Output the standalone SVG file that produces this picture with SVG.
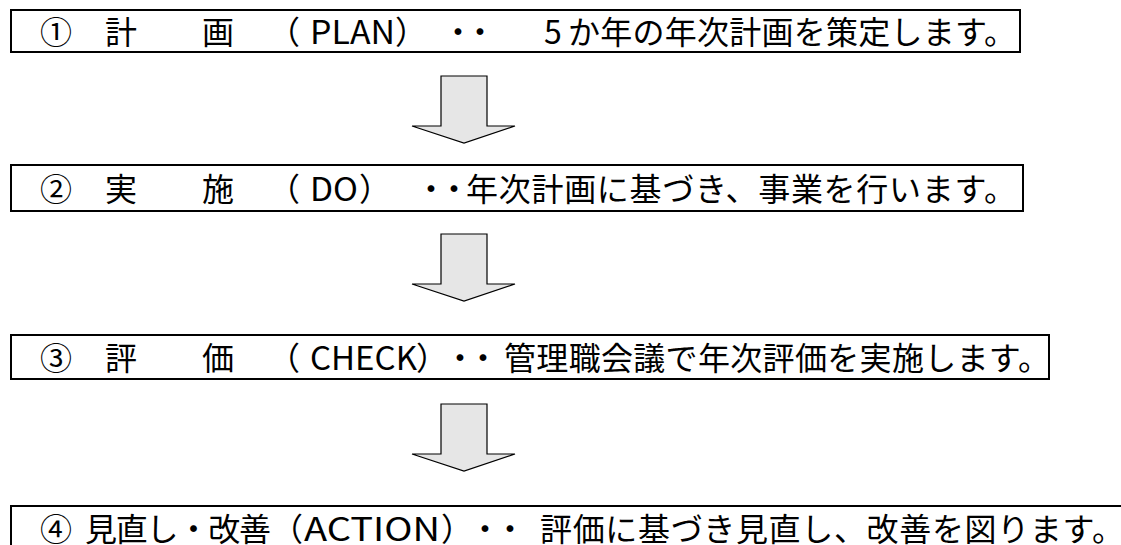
<svg xmlns="http://www.w3.org/2000/svg" width="1121" height="545" viewBox="0 0 1121 545">
<style>
.box{fill:#ffffff;stroke:#000000;stroke-width:2}
.arrow{fill:#e6e6e6;stroke:#000000;stroke-width:1.2;stroke-linejoin:miter}
.t{font-family:"Noto Sans CJK JP","Noto Sans",sans-serif;font-size:32px;fill:#000000}
</style>
<rect width="1121" height="545" fill="#ffffff"/>
<g id="connectors">
<path class="arrow" d="M441,76 H487 V126 H515 L464,143 L412,126 H441 Z"/>
<path class="arrow" d="M441,234 H487 V284 H515 L464,301 L412,284 H441 Z"/>
<path class="arrow" d="M441,404 H487 V454 H515 L464,471 L412,454 H441 Z"/>
</g>
<g id="node-plan">
<rect class="box" x="11" y="10" width="1009" height="42"/>
<text class="t" y="44"><tspan x="40">①</tspan><tspan x="105">計</tspan><tspan x="202">画</tspan><tspan x="268">（</tspan><tspan x="310" textLength="85" lengthAdjust="spacingAndGlyphs">PLAN</tspan><tspan x="395">）</tspan><tspan x="442" letter-spacing="-10">・・</tspan><tspan x="544">5</tspan><tspan x="568" textLength="448" lengthAdjust="spacing">か年の年次計画を策定します。</tspan></text>
</g>
<g id="node-do">
<rect class="box" x="11" y="165" width="1012" height="46"/>
<text class="t" y="201"><tspan x="40">②</tspan><tspan x="105">実</tspan><tspan x="202">施</tspan><tspan x="268">（</tspan><tspan x="310" textLength="48" lengthAdjust="spacingAndGlyphs">DO</tspan><tspan x="359">）</tspan><tspan x="415" letter-spacing="-9">・・</tspan><tspan x="466" textLength="550" lengthAdjust="spacing">年次計画に基づき、事業を行います。</tspan></text>
</g>
<g id="node-check">
<rect class="box" x="11" y="335" width="1038" height="44"/>
<text class="t" y="370"><tspan x="40">③</tspan><tspan x="105">評</tspan><tspan x="202">価</tspan><tspan x="268">（</tspan><tspan x="310" textLength="107" lengthAdjust="spacingAndGlyphs">CHECK</tspan><tspan x="416">）</tspan><tspan x="444" letter-spacing="-9">・・</tspan><tspan x="504" textLength="546" lengthAdjust="spacing">管理職会議で年次評価を実施します。</tspan></text>
</g>
<g id="node-action">
<rect class="box" x="11" y="506" width="1125" height="60"/>
<text class="t" y="541"><tspan x="40">④</tspan><tspan x="85" textLength="186" lengthAdjust="spacing">見直し・改善</tspan><tspan x="271">（</tspan><tspan x="304" textLength="136" lengthAdjust="spacingAndGlyphs">ACTION</tspan><tspan x="441">）</tspan><tspan x="469" letter-spacing="-7">・・</tspan><tspan x="540" textLength="584" lengthAdjust="spacing">評価に基づき見直し、改善を図ります。</tspan></text>
</g>
</svg>
